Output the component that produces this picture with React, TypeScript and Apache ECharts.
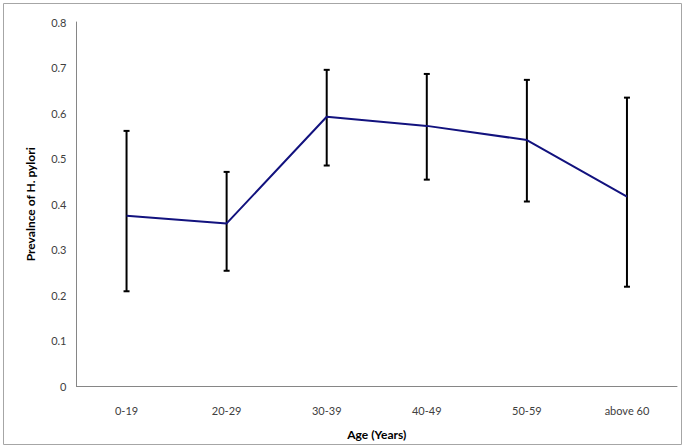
import React, { useEffect, useRef } from "react";
import * as echarts from "echarts";

const categories = ["0-19", "20-29", "30-39", "40-49", "50-59", "above 60"];
const prevalence = [0.375, 0.358, 0.592, 0.572, 0.541, 0.417];
const lowerBound = [0.209, 0.254, 0.485, 0.454, 0.406, 0.219];
const upperBound = [0.561, 0.471, 0.695, 0.686, 0.673, 0.634];
const yTicks = [0, 0.1, 0.2, 0.3, 0.4, 0.5, 0.6, 0.7, 0.8];

const FONT = "Lato, 'Open Sans', sans-serif";

export default function App() {
  const ref = useRef<HTMLDivElement>(null);
  useEffect(() => {
    if (!ref.current) return;
    const chart = echarts.init(ref.current, undefined, { renderer: "svg" });
    const errData = categories.map((_, i) => [i, lowerBound[i], upperBound[i]]);
    chart.setOption({
      animation: false,
      backgroundColor: "#ffffff",
      textStyle: { fontFamily: FONT },
      grid: { left: 76.5, right: 8, top: 22, bottom: 61.5, containLabel: false },
      graphic: [
        {
          type: "rect",
          shape: { x: 3.5, y: 3.5, width: 678, height: 441 },
          style: { fill: "none", stroke: "#a6a6a6", lineWidth: 1 },
          silent: true,
        },
      ],
      xAxis: {
        type: "category",
        data: categories,
        boundaryGap: true,
        axisLine: { show: true, lineStyle: { color: "#868686", width: 1 } },
        axisTick: { show: false },
        axisLabel: { color: "#404040", fontSize: 11, fontFamily: FONT, margin: 18 },
        splitLine: { show: false },
        name: "Age (Years)",
        nameLocation: "middle",
        nameGap: 42,
        nameTextStyle: { color: "#000", fontSize: 12, fontWeight: "bold", fontFamily: FONT },
      },
      yAxis: {
        type: "value",
        min: 0,
        max: 0.8,
        interval: 0.1,
        axisLine: { show: true, lineStyle: { color: "#868686", width: 1 } },
        axisTick: { show: false },
        splitLine: { show: false },
        axisLabel: {
          color: "#404040",
          fontSize: 11,
          fontFamily: FONT,
          margin: 10,
          formatter: (v: number) => {
            const t = yTicks.find((x) => Math.abs(x - v) < 1e-9);
            return t === undefined ? "" : String(Number(t.toFixed(1)));
          },
        },
        name: "Prevalnce of H. pylori",
        nameLocation: "middle",
        nameGap: 40,
        nameRotate: 90,
        nameTextStyle: { color: "#000", fontSize: 12, fontWeight: "bold", fontFamily: FONT },
      },
      series: [
        {
          type: "custom",
          name: "error",
          data: errData,
          z: 3,
          renderItem: (params: any, api: any) => {
            const idx = api.value(0);
            const lo = api.coord([idx, api.value(1)]);
            const hi = api.coord([idx, api.value(2)]);
            const cap = 3;
            const style = { stroke: "#000000", lineWidth: 2 };
            return {
              type: "group",
              children: [
                { type: "line", shape: { x1: hi[0], y1: hi[1], x2: lo[0], y2: lo[1] }, style },
                { type: "line", shape: { x1: hi[0] - cap, y1: hi[1], x2: hi[0] + cap, y2: hi[1] }, style },
                { type: "line", shape: { x1: lo[0] - cap, y1: lo[1], x2: lo[0] + cap, y2: lo[1] }, style },
              ],
            };
          },
        },
        {
          type: "line",
          name: "prevalence",
          data: prevalence,
          z: 4,
          symbol: "none",
          lineStyle: { color: "#12127e", width: 2 },
          itemStyle: { color: "#12127e" },
        },
      ],
    });
    return () => chart.dispose();
  }, []);
  return (
    <div
      ref={ref}
      style={{ position: "fixed", left: 0, top: 0, width: 685, height: 448, background: "#fff" }}
    />
  );
}
